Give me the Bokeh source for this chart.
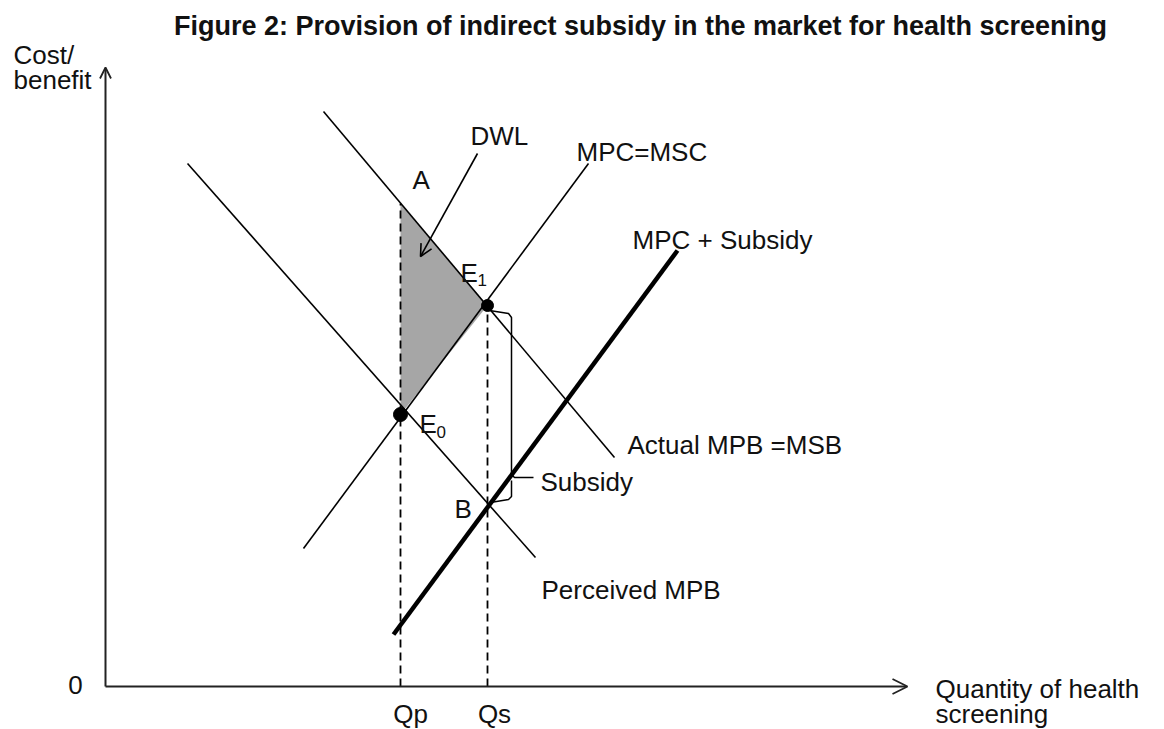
from bokeh.plotting import figure
from bokeh.models import Range1d, Label, Arrow, OpenHead
from bokeh.embed import file_html
from bokeh.resources import INLINE

# ---- data (economic units: quantity, cost/benefit) ----
actual_mpb_q = [21.8, 50.9]
actual_mpb_p = [57.5, 22.9]
perceived_mpb_q = [8.2, 43.0]
perceived_mpb_p = [52.3, 12.9]
mpc_q = [19.8, 48.3]
mpc_p = [13.8, 52.3]
mpc_sub_q = [28.8, 57.2]
mpc_sub_p = [5.2, 43.6]

Qp = 29.5
Qs = 38.2
P_A = 48.3
P_E1 = 38.1
P_E0 = 27.2
P_B = 18.4

dwl_q = [Qp, Qs, Qp]
dwl_p = [P_A, P_E1, P_E0]

brace_top_q = [38.4, 40.3, 40.6, 40.6, 40.9, 42.8]
brace_top_p = [37.6, 37.3, 36.9, 21.2, 20.9, 20.9]
brace_bot_q = [40.6, 40.6, 40.3, 38.5]
brace_bot_p = [20.6, 19.0, 18.7, 18.4]

x_axis_end = 80.2
y_axis_end = 61.9

FONT = "Liberation Sans"
BLACK = "#000000"

p = figure(width=1164, height=729,
           x_range=Range1d(-10.5, 105.9), y_range=Range1d(-4.3, 68.6),
           x_axis_type=None, y_axis_type=None,
           output_backend="svg", toolbar_location=None, min_border=0)
p.outline_line_color = None
p.background_fill_color = "white"
p.border_fill_color = "white"

# DWL shaded area
p.patch(dwl_q, dwl_p, fill_color="#a6a6a6", line_color=None)

# dashed guide lines
p.line([Qp, Qp], [0, P_A], line_color=BLACK, line_width=1.8, line_dash="8 5")
p.line([Qs, Qs], [0, P_E1], line_color=BLACK, line_width=1.8, line_dash="8 5")

# curves
p.line(actual_mpb_q, actual_mpb_p, line_color=BLACK, line_width=1.6)
p.line(perceived_mpb_q, perceived_mpb_p, line_color=BLACK, line_width=1.6)
p.line(mpc_q, mpc_p, line_color=BLACK, line_width=1.6)
p.line(mpc_sub_q, mpc_sub_p, line_color=BLACK, line_width=4.5)

# subsidy brace
p.line(brace_top_q, brace_top_p, line_color=BLACK, line_width=1.5)
p.line(brace_bot_q, brace_bot_p, line_color=BLACK, line_width=1.5)

# equilibrium points
p.scatter([Qs], [P_E1], size=12, color=BLACK)
p.scatter([Qp], [P_E0], size=14, color=BLACK)

# axes as arrows
p.add_layout(Arrow(x_start=0, y_start=0, x_end=0, y_end=y_axis_end,
                   line_width=2, line_color="#222222",
                   end=OpenHead(size=11, line_width=1.8, line_color="#222222")))
p.add_layout(Arrow(x_start=0, y_start=0, x_end=x_axis_end, y_end=0,
                   line_width=2, line_color="#222222",
                   end=OpenHead(size=15, line_width=1.8, line_color="#222222")))

# DWL pointer arrow
p.add_layout(Arrow(x_start=37.2, y_start=53.3, x_end=31.5, y_end=43.0,
                   line_width=1.6, line_color=BLACK,
                   end=OpenHead(size=12, line_width=1.6, line_color=BLACK)))


def lab(x, y, text, size=26, align="left", bold=False):
    p.add_layout(Label(x=x, y=y, text=text, text_font=FONT,
                       text_font_size=f"{size}px", text_align=align,
                       text_baseline="middle", text_color="#111111",
                       text_font_style="bold" if bold else "normal"))


lab(53.5, 66.1, "Figure 2: Provision of indirect subsidy in the market for health screening",
    size=27, align="center", bold=True)
lab(-9.2, 63.2, "Cost/")
lab(-9.2, 60.7, "benefit")
lab(-3.0, 0.2, "0", align="center")
lab(30.5, -2.75, "Qp", align="center")
lab(38.9, -2.75, "Qs", align="center")
lab(83.0, -0.2, "Quantity of  health")
lab(83.0, -2.7, "screening")
lab(30.7, 50.7, "A")
lab(36.5, 55.1, "DWL")
lab(47.1, 53.5, "MPC=MSC")
lab(52.7, 44.7, "MPC + Subsidy")
lab(35.5, 41.4, "E")
lab(37.2, 40.7, "1", size=17)
lab(31.4, 26.3, "E")
lab(33.1, 25.5, "0", size=17)
lab(52.2, 24.2, "Actual MPB =MSB")
lab(43.5, 20.5, "Subsidy")
lab(34.9, 17.8, "B")
lab(43.6, 9.7, "Perceived MPB")

open("out.html", "w").write(file_html(p, INLINE))
